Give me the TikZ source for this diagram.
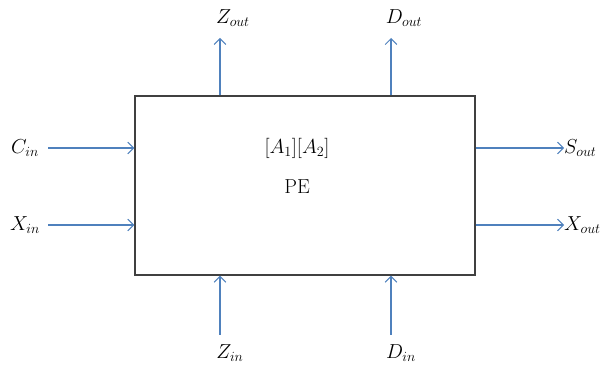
\documentclass[tikz,border=0pt]{standalone}
\usepackage{amsmath,amssymb}
\usepackage{xcolor}
\usepackage{tikz}
\usetikzlibrary{arrows.meta, positioning}

\definecolor{sigblue}{RGB}{79,129,189}

\begin{document}
\begin{tikzpicture}[
  x=0.03cm, y=-0.03cm,
  pebox/.style={rectangle, draw=black!75, line width=1pt, minimum width=10.2cm, minimum height=5.37cm},
  lbl/.style={inner sep=0pt, font=\LARGE},
  arr/.style={-{Straight Barb[length=5pt,width=10pt]}, draw=sigblue, line width=0.9pt}
]
\useasboundingbox (0,0) rectangle (602,367);

\node[pebox] (pe) at (305,185.5) {};
\node[lbl] (arr) at (297,148) {$[A_1][A_2]$};
\node[lbl] (name) at (297,187) {PE};

% inputs on the left
\node[lbl] (cin) at (25,148) {$C_{in}$};
\node[lbl] (xin) at (25,225) {$X_{in}$};
\coordinate (cinS) at (48,148);
\coordinate (xinS) at (48,225);
\draw[arr] (cinS) -- (cinS -| pe.west);
\draw[arr] (xinS) -- (xinS -| pe.west);

% outputs on the right
\node[lbl, anchor=west] (sout) at (564,148) {$S_{out}$};
\node[lbl, anchor=west] (xout) at (564,225) {$X_{out}$};
\draw[arr] (sout.west -| pe.east) -- (sout.west);
\draw[arr] (xout.west -| pe.east) -- (xout.west);

% outputs on top
\coordinate (zoutE) at (220,38);
\coordinate (doutE) at (391,38);
\node[lbl] (zout) at (233,18) {$Z_{out}$};
\node[lbl] (dout) at (404,18) {$D_{out}$};
\draw[arr] (zoutE |- pe.north) -- (zoutE);
\draw[arr] (doutE |- pe.north) -- (doutE);

% inputs at the bottom
\coordinate (zinS) at (220,335);
\coordinate (dinS) at (391,335);
\node[lbl] (zin) at (230,353) {$Z_{in}$};
\node[lbl] (din) at (401,353) {$D_{in}$};
\draw[arr] (zinS) -- (zinS |- pe.south);
\draw[arr] (dinS) -- (dinS |- pe.south);
\end{tikzpicture}
\end{document}
